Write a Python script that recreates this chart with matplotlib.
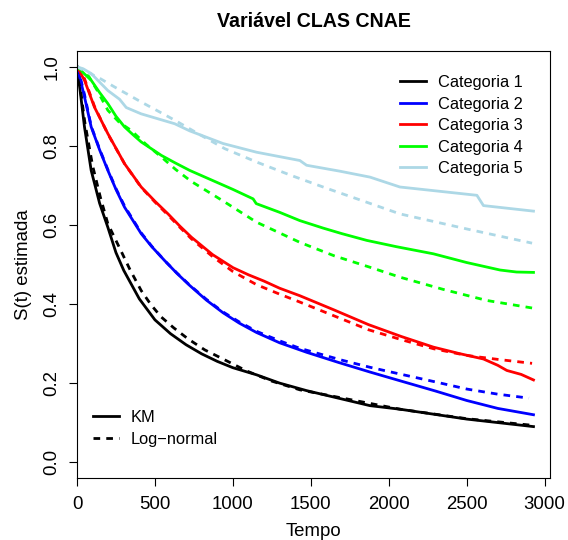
import numpy as np
import matplotlib.pyplot as plt
from matplotlib.lines import Line2D

plt.rcParams['font.family'] = ['Liberation Sans', 'DejaVu Sans']

# Curvas: KM (sólida) e Log-normal (tracejada) por categoria
t_km1 = [0, 20, 48, 91, 145, 198, 250, 300, 400, 500, 600, 700, 800, 900, 1000, 1152, 1300, 1473, 1880, 2072, 2501, 2929]
s_km1 = [1.0, 0.94, 0.848, 0.738, 0.655, 0.594, 0.53, 0.485, 0.413, 0.36, 0.325, 0.297, 0.274, 0.255, 0.239, 0.221, 0.2, 0.181, 0.143, 0.134, 0.109, 0.09]
t_ln1 = [0, 20, 50, 100, 150, 198, 284, 340, 412, 475, 541, 620, 712, 820, 937, 1087, 1250, 1430, 2072, 2501, 2929]
s_ln1 = [1.0, 0.95, 0.86, 0.75, 0.67, 0.603, 0.533, 0.487, 0.434, 0.398, 0.367, 0.34, 0.312, 0.284, 0.261, 0.231, 0.205, 0.183, 0.134, 0.11, 0.093]

t_km2 = [0, 20, 48, 91, 145, 198, 250, 305, 412, 480, 562, 640, 723, 830, 937, 1040, 1152, 1300, 1473, 1680, 1880, 2072, 2300, 2501, 2700, 2929]
s_km2 = [1.0, 0.97, 0.924, 0.848, 0.79, 0.738, 0.69, 0.645, 0.578, 0.545, 0.51, 0.478, 0.447, 0.41, 0.378, 0.352, 0.328, 0.302, 0.278, 0.252, 0.228, 0.206, 0.18, 0.156, 0.136, 0.12]
t_ln2 = [0, 20, 48, 91, 145, 198, 250, 305, 412, 480, 562, 640, 723, 830, 937, 1040, 1152, 1300, 1430, 1700, 1880, 2072, 2300, 2501, 2700, 2900]
s_ln2 = [1.0, 0.975, 0.93, 0.85, 0.792, 0.74, 0.692, 0.648, 0.58, 0.546, 0.51, 0.479, 0.448, 0.412, 0.38, 0.355, 0.331, 0.307, 0.288, 0.258, 0.24, 0.223, 0.203, 0.185, 0.172, 0.162]

t_km3 = [0, 48, 112, 198, 305, 412, 500, 584, 660, 734, 870, 1001, 1100, 1200, 1300, 1430, 1650, 1870, 2080, 2287, 2450, 2608, 2700, 2758, 2850, 2929]
s_km3 = [1.0, 0.966, 0.898, 0.831, 0.755, 0.696, 0.66, 0.628, 0.597, 0.569, 0.525, 0.492, 0.474, 0.458, 0.44, 0.421, 0.385, 0.348, 0.318, 0.291, 0.275, 0.261, 0.245, 0.232, 0.222, 0.208]
t_ln3 = [0, 48, 112, 198, 305, 412, 500, 584, 660, 734, 870, 1001, 1152, 1300, 1430, 1650, 1870, 2080, 2287, 2500, 2700, 2920]
s_ln3 = [1.0, 0.97, 0.9, 0.83, 0.755, 0.695, 0.658, 0.625, 0.594, 0.565, 0.52, 0.482, 0.449, 0.425, 0.405, 0.37, 0.335, 0.31, 0.287, 0.27, 0.26, 0.25]

t_km4 = [0, 40, 91, 145, 198, 250, 305, 360, 412, 541, 630, 723, 850, 1000, 1130, 1150, 1300, 1430, 1580, 1700, 1859, 2050, 2287, 2500, 2715, 2820, 2929]
s_km4 = [1.0, 0.985, 0.966, 0.935, 0.907, 0.875, 0.848, 0.828, 0.81, 0.776, 0.757, 0.738, 0.716, 0.69, 0.666, 0.654, 0.632, 0.611, 0.592, 0.578, 0.561, 0.545, 0.527, 0.505, 0.486, 0.481, 0.48]
t_ln4 = [0, 77, 130, 198, 270, 348, 440, 541, 634, 734, 940, 1152, 1430, 1650, 1880, 2072, 2350, 2630, 2920]
s_ln4 = [1.0, 0.975, 0.94, 0.89, 0.86, 0.839, 0.805, 0.772, 0.74, 0.71, 0.66, 0.607, 0.556, 0.522, 0.493, 0.468, 0.437, 0.409, 0.39]

t_km5 = [0, 40, 91, 198, 273, 316, 412, 627, 723, 937, 1152, 1430, 1473, 1687, 1880, 2072, 2566, 2608, 2929]
s_km5 = [1.0, 0.995, 0.983, 0.94, 0.918, 0.897, 0.881, 0.856, 0.838, 0.806, 0.784, 0.763, 0.751, 0.736, 0.721, 0.696, 0.675, 0.649, 0.635]
t_ln5 = [0, 50, 150, 241, 412, 520, 627, 790, 948, 1160, 1376, 1600, 1826, 2072, 2500, 2920]
s_ln5 = [1.0, 0.99, 0.97, 0.949, 0.911, 0.888, 0.865, 0.828, 0.793, 0.758, 0.725, 0.693, 0.662, 0.628, 0.59, 0.554]

categorias = ['Categoria 1', 'Categoria 2', 'Categoria 3', 'Categoria 4', 'Categoria 5']
cores = ['black', '#0000FF', '#FF0000', '#00FF00', '#ADD8E6']

km = [(t_km1, s_km1), (t_km2, s_km2), (t_km3, s_km3), (t_km4, s_km4), (t_km5, s_km5)]
ln = [(t_ln1, s_ln1), (t_ln2, s_ln2), (t_ln3, s_ln3), (t_ln4, s_ln4), (t_ln5, s_ln5)]

tracejado = (0, (2.4, 2.2))

fig = plt.figure(figsize=(5.68, 5.40), dpi=100)
ax = fig.add_axes([77 / 568, 1 - 478 / 540, (550 - 77) / 568, (478 - 51) / 540])

for (t, s), cor in zip(km, cores):
    ax.plot(t, s, color=cor, lw=2)
for (t, s), cor in zip(ln, cores):
    ax.plot(t, s, color=cor, lw=2, linestyle=tracejado)

ax.set_xlim(0, 3035)
ax.set_ylim(-0.04, 1.04)
ax.set_xticks([0, 500, 1000, 1500, 2000, 2500, 3000])
ax.set_yticks([0.0, 0.2, 0.4, 0.6, 0.8, 1.0])
ax.set_yticklabels(['0.0', '0.2', '0.4', '0.6', '0.8', '1.0'], rotation=90, va='center')
ax.tick_params(direction='out', length=6, width=0.8, labelsize=13.4, pad=7)
ax.tick_params(axis='y', pad=6)
for sp in ax.spines.values():
    sp.set_linewidth(0.8)

ax.set_title('Variável CLAS CNAE', fontsize=14.1, fontweight='bold', pad=17)
ax.set_xlabel('Tempo', fontsize=13.4, labelpad=7)
ax.set_ylabel('S(t) estimada', fontsize=13.4, labelpad=8)

# legenda das categorias
h_cat = [Line2D([], [], color=c, lw=2) for c in cores]
leg1 = fig.legend(h_cat, categorias, loc='upper left', bbox_to_anchor=(400 / 568, 1 - 75 / 540),
                  frameon=False, fontsize=11.8, handlelength=1.6, handletextpad=0.7,
                  labelspacing=0.4, borderpad=0, borderaxespad=0)

# legenda dos tipos de curva
h_tipo = [Line2D([], [], color='black', lw=2),
          Line2D([], [], color='black', lw=2, linestyle=tracejado)]
leg2 = fig.legend(h_tipo, ['KM', 'Log\u2212normal'], loc='upper left', bbox_to_anchor=(93 / 568, 1 - 410 / 540),
                  frameon=False, fontsize=11.8, handlelength=1.6, handletextpad=0.7,
                  labelspacing=0.4, borderpad=0, borderaxespad=0)

plt.savefig('out.png', dpi=100)
